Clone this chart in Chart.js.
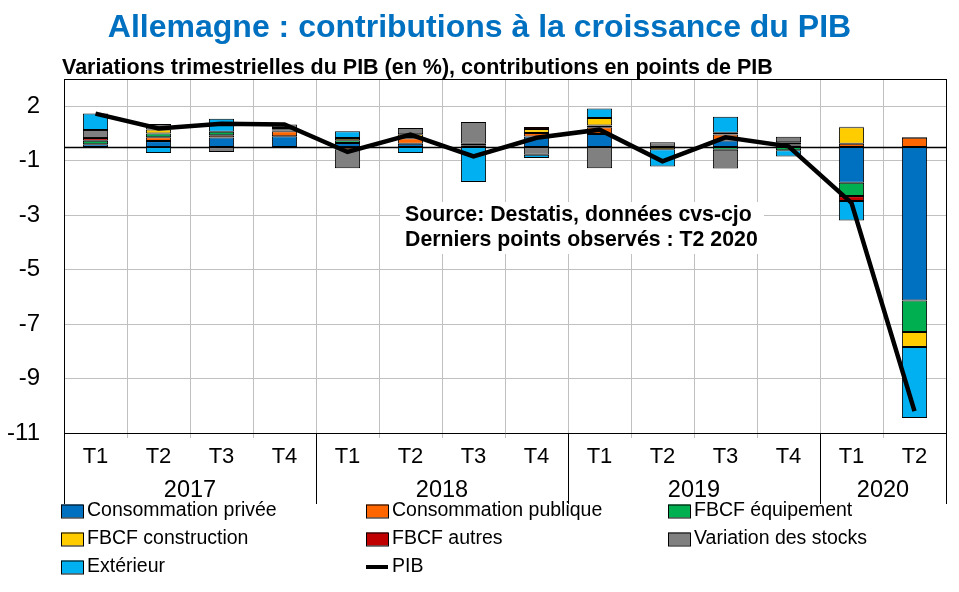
<!DOCTYPE html>
<html><head><meta charset="utf-8">
<script src="https://cdn.jsdelivr.net/npm/chart.js@4/dist/chart.umd.min.js"></script>
<style>html,body{margin:0;padding:0;background:#fff;}</style>
</head><body>
<canvas id="c" width="959" height="592"></canvas>
<script>
// ---- data ----
const categories = ['T1','T2','T3','T4','T1','T2','T3','T4','T1','T2','T3','T4','T1','T2'];
const years = ['2017','2018','2019','2020'];
const yearSpans = [4,4,4,2];
const consoPrivee   = [0.10,0.22,0.35,0.40, 0.15,0.12,0.00,0.39, 0.48,0.00,0.24,0.05, -1.31,-5.63];
const consoPublique = [0.00,0.14,0.08,0.18, -0.08,0.20,0.05,0.13, 0.25,0.00,0.22,0.05, 0.12,0.34];
const fbcfEquip     = [0.13,0.14,0.13,0.03, 0.10,0.05,0.00,0.00, 0.06,0.00,-0.10,-0.12, -0.49,-1.16];
const fbcfConstr    = [0.00,0.15,0.00,0.03, 0.08,0.10,0.07,0.14, 0.28,-0.08,0.00,0.08, 0.61,-0.55];
const fbcfAutres    = [0.10,0.00,0.00,0.06, 0.00,0.00,0.00,0.08, 0.00,0.00,0.07,0.00, -0.18,0.00];
const stocks        = [0.30,0.20,-0.18,0.13, -0.70,0.23,0.80,-0.28, -0.78,0.18,-0.69,0.20, 0.02,0.03];
const exterieur     = [0.60,-0.22,0.48,0.00, 0.25,-0.22,-1.28,-0.12, 0.35,-0.63,0.58,-0.23, -0.72,-2.61];
const pib           = [1.23,0.68,0.86,0.83, -0.18,0.46,-0.34,0.34, 0.64,-0.52,0.36,0.03, -2.05,-9.70];
const yTickValues = [-10.5,-8.5,-6.5,-4.5,-2.5,-0.5,1.5];
const yTickLabels = ['-11','-9','-7','-5','-3','-1','2'];

const FONT = '"Liberation Sans", Arial, sans-serif';
const seriesDefs = [
  ['Consommation privée', consoPrivee, '#0070C0'],
  ['Consommation publique', consoPublique, '#FF6600'],
  ['FBCF équipement', fbcfEquip, '#00B050'],
  ['FBCF construction', fbcfConstr, '#FFCC00'],
  ['FBCF autres', fbcfAutres, '#C00000'],
  ['Variation des stocks', stocks, '#808080'],
  ['Extérieur', exterieur, '#00B0F0']
];
const datasets = seriesDefs.map(([label, arr, color]) => ({
  type: 'bar', label, data: arr.map(v => v === 0 ? null : v),
  backgroundColor: color, borderColor: '#000', borderWidth: 1, borderSkipped: false,
  categoryPercentage: 1, barPercentage: 0.4, order: 1
}));
datasets.push({
  type: 'line', label: 'PIB', data: pib, borderColor: '#000', backgroundColor: '#000',
  borderWidth: 4.5, pointRadius: 0, tension: 0, fill: false, order: 0, stack: 'pib'
});

const deco = {
  id: 'deco',
  beforeDatasetsDraw(chart) {
    const {ctx, chartArea: a, scales: {y}} = chart;
    const y0 = Math.round(y.getPixelForValue(0)) + 0.5;
    ctx.save();
    ctx.strokeStyle = '#000'; ctx.lineWidth = 1.5;
    ctx.beginPath(); ctx.moveTo(a.left, y0); ctx.lineTo(a.right, y0); ctx.stroke();
    ctx.restore();
  },
  afterDraw(chart) {
    const {ctx, chartArea: a} = chart;
    const n = categories.length, cw = (a.right - a.left) / n;
    ctx.save();
    ctx.strokeStyle = '#000'; ctx.lineWidth = 1;
    ctx.beginPath();
    ctx.moveTo(a.left, a.top + 0.5); ctx.lineTo(a.right, a.top + 0.5);
    ctx.moveTo(a.right + 0.5, a.top); ctx.lineTo(a.right + 0.5, a.bottom);
    ctx.stroke();
    let idx = 0;
    const bounds = [0];
    yearSpans.forEach(s => { idx += s; bounds.push(idx); });
    ctx.beginPath();
    bounds.forEach(b => {
      const x = Math.round(a.left + b * cw) + 0.5;
      ctx.moveTo(x, a.bottom); ctx.lineTo(x, 504);
    });
    ctx.stroke();
    ctx.fillStyle = '#000'; ctx.font = '23.5px ' + FONT;
    ctx.textAlign = 'center'; ctx.textBaseline = 'middle';
    years.forEach((yr, i) => {
      const xc = a.left + (bounds[i] + bounds[i + 1]) / 2 * cw;
      ctx.fillText(yr, xc, 491);
    });
    ctx.fillStyle = '#0070C0'; ctx.font = 'bold 32px ' + FONT;
    ctx.fillText('Allemagne : contributions à la croissance du PIB', 479.5, 28);
    ctx.fillStyle = '#000'; ctx.font = 'bold 21.5px ' + FONT; ctx.textAlign = 'left';
    ctx.fillText('Variations trimestrielles du PIB (en %), contributions en points de PIB', 62, 68);
    ctx.fillStyle = '#fff'; ctx.fillRect(400, 202, 364, 52);
    ctx.fillStyle = '#000'; ctx.font = 'bold 21.3px ' + FONT;
    ctx.fillText('Source: Destatis, données cvs-cjo', 405, 215);
    ctx.fillText('Derniers points observés : T2 2020', 405, 240);
    const cols = [61, 366, 668], rows = [511, 539, 567];
    ctx.font = '19.5px ' + FONT;
    chart.data.datasets.forEach((ds, i) => {
      const x = cols[i % 3], yy = rows[Math.floor(i / 3)];
      if (ds.type === 'line') {
        ctx.strokeStyle = '#000'; ctx.lineWidth = 4;
        ctx.beginPath(); ctx.moveTo(x, yy); ctx.lineTo(x + 22, yy); ctx.stroke();
      } else {
        ctx.fillStyle = ds.backgroundColor; ctx.fillRect(x, yy - 6.5, 22, 13);
        ctx.strokeStyle = '#000'; ctx.lineWidth = 1;
        ctx.strokeRect(x + 0.5, yy - 6.5 + 0.5, 22, 13);
      }
      ctx.fillStyle = '#000';
      ctx.fillText(ds.label, x + 26, yy);
    });
    ctx.restore();
  }
};

new Chart(document.getElementById('c'), {
  type: 'bar',
  data: { labels: categories, datasets },
  options: {
    responsive: false, animation: false, devicePixelRatio: 1,
    layout: { padding: { top: 79, right: 13, left: 0, bottom: 0 } },
    plugins: { legend: { display: false }, title: { display: false }, tooltip: { enabled: false } },
    scales: {
      x: {
        stacked: true,
        grid: { color: '#c0c0c0', offset: true, tickLength: 5 },
        border: { color: '#000', width: 1 },
        ticks: { color: '#000', font: { family: FONT, size: 22 }, padding: 6, maxRotation: 0, autoSkip: false },
        afterFit: s => { s.height = 159; }
      },
      y: {
        stacked: true, min: -10.5, max: 2.5,
        afterBuildTicks: s => { s.ticks = yTickValues.map(v => ({ value: v })); },
        grid: { color: '#c0c0c0', drawTicks: false },
        border: { color: '#000', width: 1 },
        ticks: { color: '#000', font: { family: FONT, size: 24 }, padding: 24, callback: (v, i) => yTickLabels[i] },
        afterFit: s => { s.width = 64; }
      }
    }
  },
  plugins: [deco]
});
</script>
</body></html>
